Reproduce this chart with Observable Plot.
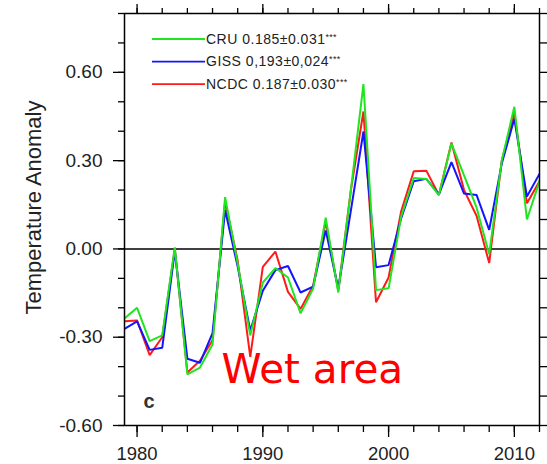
<!DOCTYPE html>
<html>
<head>
<meta charset="utf-8">
<script src="https://cdn.jsdelivr.net/npm/d3@7"></script>
<script src="https://cdn.jsdelivr.net/npm/@observablehq/plot@0.6"></script>
<style>
  html, body { margin: 0; padding: 0; background: #fff; }
  svg { display: block; }
</style>
</head>
<body>
<div id="chart"></div>
<script>
// Annual temperature anomaly over the wet area, three datasets
const years = [1979, 1980, 1981, 1982, 1983, 1984, 1985, 1986, 1987, 1988,
               1989, 1990, 1991, 1992, 1993, 1994, 1995, 1996, 1997, 1998,
               1999, 2000, 2001, 2002, 2003, 2004, 2005, 2006, 2007, 2008,
               2009, 2010, 2011, 2012];

const cru  = [-0.236, -0.200, -0.313, -0.294,  0.005, -0.426, -0.403, -0.325,  0.176, -0.050,
              -0.294, -0.114, -0.065, -0.097, -0.219, -0.135,  0.106, -0.148,  0.200,  0.560,
              -0.140, -0.134,  0.110,  0.241,  0.238,  0.183,  0.358,  0.250,  0.140, -0.018,
               0.300,  0.483,  0.100,  0.230];

const giss = [-0.272, -0.246, -0.343, -0.336, -0.007, -0.373, -0.387, -0.286,  0.132, -0.060,
              -0.277, -0.142, -0.072, -0.058, -0.148, -0.128,  0.063, -0.135,  0.130,  0.399,
              -0.062, -0.055,  0.104,  0.230,  0.238,  0.185,  0.295,  0.188,  0.183,  0.065,
               0.290,  0.442,  0.178,  0.255];

const ncdc = [-0.246, -0.243, -0.361, -0.300,  0.000, -0.420, -0.380, -0.310,  0.162, -0.040,
              -0.367, -0.061, -0.009, -0.146, -0.204, -0.125,  0.092, -0.142,  0.200,  0.467,
              -0.181, -0.097,  0.128,  0.264,  0.266,  0.183,  0.362,  0.200,  0.112, -0.048,
               0.300,  0.462,  0.155,  0.230];

// Legend entries: dataset, trend ± error, significance
const seriesNames  = ["CRU", "GISS", "NCDC"];
const seriesTrends = ["0.185±0.031", "0,193±0,024", "0.187±0.030"];
const seriesSignif = ["***", "***", "***"];
const seriesColors = ["#1fe61f", "#1414ff", "#ff1a1a"];

// Axis ticks
const xMajor = [1980, 1990, 2000, 2010];
const xMinor = [1980, 1982, 1984, 1986, 1988, 1990, 1992, 1994, 1996, 1998,
                2000, 2002, 2004, 2006, 2008, 2010, 2012];
const yMajor = [-0.6, -0.3, 0, 0.3, 0.6];
const yMinor = [-0.6, -0.5, -0.4, -0.3, -0.2, -0.1, 0, 0.1, 0.2, 0.3, 0.4, 0.5, 0.6, 0.7, 0.8];

const yLabel = "Temperature Anomaly";
const panelTag = "c";
const regionName = "Wet area";

// Long table; NCDC first, CRU last so the green line sits on top
const seriesValues = {CRU: cru, GISS: giss, NCDC: ncdc};
const rows = [];
for (const name of ["NCDC", "GISS", "CRU"]) {
  seriesValues[name].forEach((v, i) => rows.push({year: years[i], value: v, series: name}));
}

const W = 547, H = 464;
const mL = 124, mR = 8, mT = 13, mB = 39;
const font = "'Liberation Sans', Arial, Helvetica, sans-serif";
const noLabel = () => "";

const chart = Plot.plot({
  width: W,
  height: H,
  marginLeft: mL,
  marginRight: mR,
  marginTop: mT,
  marginBottom: mB,
  style: {fontFamily: font, background: "#fff", color: "#000"},
  x: {domain: [1979, 2012]},
  y: {domain: [-0.6, 0.8]},
  color: {domain: seriesNames, range: seriesColors},
  marks: [
    Plot.ruleY([0], {stroke: "#000", strokeWidth: 1.4}),
    Plot.line(rows, {x: "year", y: "value", z: "series", stroke: "series",
                     strokeWidth: 2, strokeLinejoin: "miter", clip: true}),
    Plot.frame({stroke: "#000", strokeWidth: 1.5}),

    // bottom axis
    Plot.axisX({anchor: "bottom", ticks: xMinor, tickSize: 7, tickFormat: noLabel, label: null, strokeWidth: 1.3}),
    Plot.axisX({anchor: "bottom", ticks: xMajor, tickSize: 12, tickPadding: 9, fontSize: 18.5,
                tickFormat: d => String(d), label: null, strokeWidth: 1.3, fill: "#222"}),
    // top axis
    Plot.axisX({anchor: "top", ticks: xMinor, tickSize: 6, tickFormat: noLabel, label: null, strokeWidth: 1.3}),
    Plot.axisX({anchor: "top", ticks: xMajor, tickSize: 10, tickFormat: noLabel, label: null, strokeWidth: 1.3}),
    // left axis
    Plot.axisY({anchor: "left", ticks: yMinor, tickSize: 6, tickFormat: noLabel, label: null, strokeWidth: 1.3}),
    Plot.axisY({anchor: "left", ticks: yMajor, tickSize: 11, tickPadding: 11, fontSize: 19,
                tickFormat: d => d.toFixed(2), label: null, strokeWidth: 1.3, fill: "#222"}),
    // right axis
    Plot.axisY({anchor: "right", ticks: yMinor, tickSize: 8, tickFormat: noLabel, label: null, strokeWidth: 1.3}),

    // y title
    Plot.text([yLabel], {text: d => d, frameAnchor: "left", rotate: -90, dx: -91, dy: -12,
                         fontSize: 22, fill: "#222", textAnchor: "middle", lineAnchor: "middle"}),
    // panel tag
    Plot.text([panelTag], {text: d => d, frameAnchor: "bottom-left", dx: 19, dy: -18,
                           fontSize: 20, fontWeight: "bold", fill: "#333",
                           textAnchor: "start", lineAnchor: "bottom"}),
    // region annotation
    Plot.text([regionName], {text: d => d, frameAnchor: "bottom-left", dx: 97, dy: -43,
                             fontSize: 40.5, fill: "#ff0000", fontFamily: "'DejaVu Sans', sans-serif",
                             textAnchor: "start", lineAnchor: "bottom"})
  ]
});

// Legend drawn inside the plot frame, upper left
const svg = d3.select(chart);
const legend = svg.append("g")
  .attr("font-family", font)
  .attr("fill", "#222")
  .attr("text-anchor", "start");
const lx0 = 152, lx1 = 205, ly0 = 39, lStep = 22.6;
seriesNames.forEach((name, i) => {
  const y = ly0 + i * lStep;
  legend.append("line")
    .attr("x1", lx0).attr("x2", lx1).attr("y1", y).attr("y2", y)
    .attr("stroke", seriesColors[i]).attr("stroke-width", 1.8);
  const t = legend.append("text")
    .attr("x", lx1 + 1).attr("y", y).attr("dy", "0.34em")
    .attr("text-anchor", "start")
    .attr("font-size", 14).attr("letter-spacing", "0.5px");
  t.append("tspan").text(`${name} ${seriesTrends[i]}`);
  t.append("tspan").attr("font-size", 9).attr("dy", "-0.45em").attr("letter-spacing", "0.3px").text(seriesSignif[i]);
});

document.getElementById("chart").appendChild(chart);
</script>
</body>
</html>
